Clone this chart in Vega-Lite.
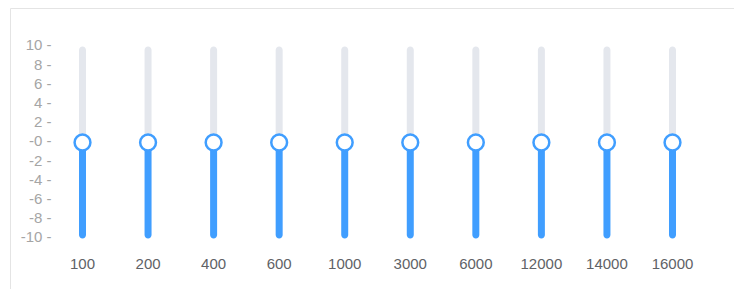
{
  "$schema": "https://vega.github.io/schema/vega-lite/v6.json",
  "width": 735,
  "height": 282,
  "autosize": {"type": "none"},
  "padding": {"left": 10, "top": 8, "right": 0, "bottom": 0},
  "background": "white",
  "config": {
    "view": {"stroke": "#e4e4e4", "strokeWidth": 1},
    "font": "Liberation Sans",
    "axis": {"labelOverlap": false}
  },
  "data": {
    "values": [
      {"freq": "100", "gain": 0},
      {"freq": "200", "gain": 0},
      {"freq": "400", "gain": 0},
      {"freq": "600", "gain": 0},
      {"freq": "1000", "gain": 0},
      {"freq": "3000", "gain": 0},
      {"freq": "6000", "gain": 0},
      {"freq": "12000", "gain": 0},
      {"freq": "14000", "gain": 0},
      {"freq": "16000", "gain": 0}
    ]
  },
  "encoding": {
    "x": {
      "field": "freq",
      "type": "nominal",
      "sort": null,
      "scale": {"type": "band", "paddingInner": 0, "paddingOuter": 0.606},
      "axis": {
        "title": null,
        "domain": false,
        "ticks": false,
        "labelAngle": 0,
        "labelPadding": 0,
        "labelBaseline": "middle",
        "offset": -26.5,
        "labelFontSize": 15,
        "labelColor": "#606266",
        "labelFont": "Liberation Sans"
      }
    },
    "y": {
      "field": "gain",
      "type": "quantitative",
      "scale": {"domain": [-15.3646, 14.0104], "nice": false, "zero": false},
      "axis": {
        "title": null,
        "domain": false,
        "ticks": false,
        "grid": false,
        "values": [-10, -8, -6, -4, -2, 0, 2, 4, 6, 8, 10],
        "labelExpr": "(datum.value <= 0 ? '-' : '') + abs(datum.value) + ' -'",
        "labelOverlap": false,
        "labelPadding": 0,
        "offset": -41,
        "labelOffset": -1.5,
        "labelFontSize": 15,
        "labelColor": "#a5a5a5",
        "labelFont": "Liberation Sans"
      }
    }
  },
  "layer": [
    {
      "mark": {"type": "bar", "size": 7, "color": "#E4E7ED", "cornerRadius": 3.5},
      "encoding": {"y2": {"datum": 10}}
    },
    {
      "mark": {"type": "bar", "size": 7, "color": "#409EFF", "cornerRadius": 3.5},
      "encoding": {"y2": {"datum": -10}}
    },
    {
      "mark": {"type": "point", "filled": false, "size": 250, "strokeWidth": 2.5, "stroke": "#409EFF", "fill": "white", "fillOpacity": 1, "opacity": 1}
    }
  ]
}
